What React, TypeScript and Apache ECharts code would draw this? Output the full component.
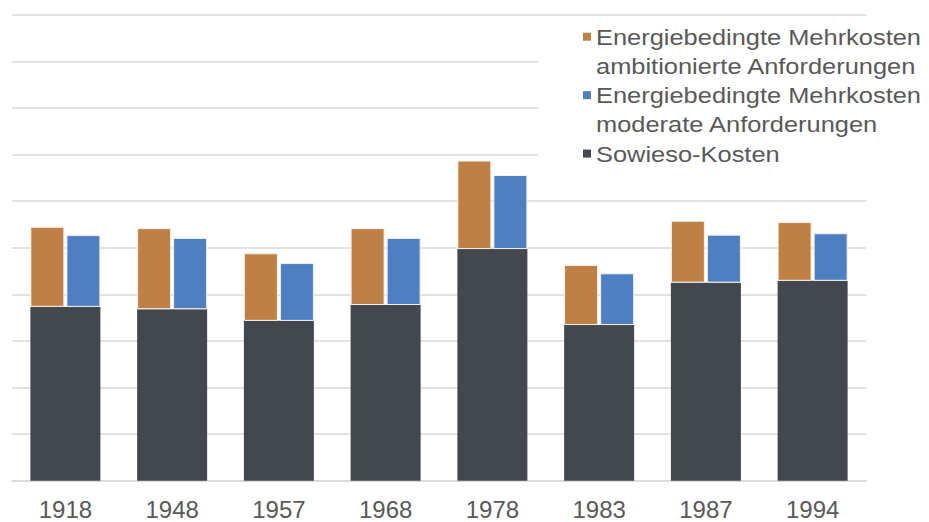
import React, { useEffect, useRef } from "react";
import * as echarts from "echarts";

const categories = ["1918", "1948", "1957", "1968", "1978", "1983", "1987", "1994"];
const sowiesoKosten = [373, 368, 343, 377, 497, 334, 425, 429];
const mehrkostenAmbitioniert = [172, 174, 145, 165, 190, 129, 133, 126];
const mehrkostenModerat = [154, 153, 124, 144, 159, 111, 103, 102];

const seriesNames = [
  "Energiebedingte Mehrkosten\nambitionierte Anforderungen",
  "Energiebedingte Mehrkosten\nmoderate Anforderungen",
  "Sowieso-Kosten",
];

const COLOR_AMB = "#BF8046";
const COLOR_MOD = "#4D7FC1";
const COLOR_SOW = "#43474E";
const TEXT = "#595959";
const GRID = "#D9D9D9";
const FONT = '"Liberation Sans", Arial, sans-serif';

export default function App() {
  const ref = useRef<HTMLDivElement>(null);

  useEffect(() => {
    if (!ref.current) return;
    const chart = echarts.init(ref.current, undefined, { renderer: "svg" });

    const legendColors = [COLOR_AMB, COLOR_MOD, COLOR_SOW];
    const legendTops = [22.1, 80.6, 139];
    const legendGraphics: any[] = [
      {
        type: "rect",
        z: 100,
        shape: { x: 538, y: 22, width: 391, height: 160 },
        style: { fill: "#ffffff" },
        silent: true,
      },
    ];
    seriesNames.forEach((name, i) => {
      legendGraphics.push({
        type: "rect",
        z: 101,
        shape: { x: 583, y: legendTops[i] + 14.6 - 4, width: 8, height: 8 },
        style: { fill: legendColors[i] },
        silent: true,
      });
      legendGraphics.push({
        type: "text",
        z: 101,
        x: 596,
        y: legendTops[i],
        scaleX: 1.13,
        silent: true,
        style: {
          text: name,
          fontSize: 22.5,
          fontFamily: FONT,
          fill: TEXT,
          lineHeight: 29.2,
          verticalAlign: "top",
          align: "left",
        },
      });
    });

    chart.setOption({
      animation: false,
      backgroundColor: "#ffffff",
      grid: { left: 12, right: 63, top: 14.7, bottom: 41.3 },
      xAxis: [
        {
          type: "category",
          data: categories,
          axisLine: { show: true, lineStyle: { color: GRID, width: 1.5 } },
          axisTick: { show: false },
          axisLabel: { fontSize: 24, color: TEXT, fontFamily: FONT, margin: 17 },
        },
        {
          type: "category",
          data: categories,
          show: false,
        },
      ],
      yAxis: {
        type: "value",
        min: 0,
        max: 1000,
        interval: 100,
        axisLabel: { show: false },
        axisLine: { show: false },
        axisTick: { show: false },
        splitLine: { lineStyle: { color: GRID, width: 1.5 } },
      },
      series: [
        {
          name: seriesNames[2],
          type: "bar",
          xAxisIndex: 0,
          data: sowiesoKosten,
          barWidth: 70,
          itemStyle: { color: COLOR_SOW },
        },
        {
          name: "baseA",
          type: "bar",
          xAxisIndex: 1,
          stack: "a",
          data: sowiesoKosten,
          barWidth: 34,
          barGap: "6%",
          silent: true,
          itemStyle: { color: "rgba(0,0,0,0)" },
        },
        {
          name: seriesNames[0],
          type: "bar",
          xAxisIndex: 1,
          stack: "a",
          data: mehrkostenAmbitioniert,
          barWidth: 34,
          barGap: "6%",
          itemStyle: { color: COLOR_AMB, borderColor: "#F4F1EC", borderWidth: 1 },
        },
        {
          name: "baseB",
          type: "bar",
          xAxisIndex: 1,
          stack: "b",
          data: sowiesoKosten,
          barWidth: 34,
          barGap: "6%",
          silent: true,
          itemStyle: { color: "rgba(0,0,0,0)" },
        },
        {
          name: seriesNames[1],
          type: "bar",
          xAxisIndex: 1,
          stack: "b",
          data: mehrkostenModerat,
          barWidth: 34,
          barGap: "6%",
          itemStyle: { color: COLOR_MOD, borderColor: "#F4F1EC", borderWidth: 1 },
        },
      ],
      graphic: legendGraphics,
    });

    return () => chart.dispose();
  }, []);

  return (
    <div
      ref={ref}
      style={{ position: "fixed", left: 0, top: 0, width: 929, height: 522 }}
    />
  );
}
